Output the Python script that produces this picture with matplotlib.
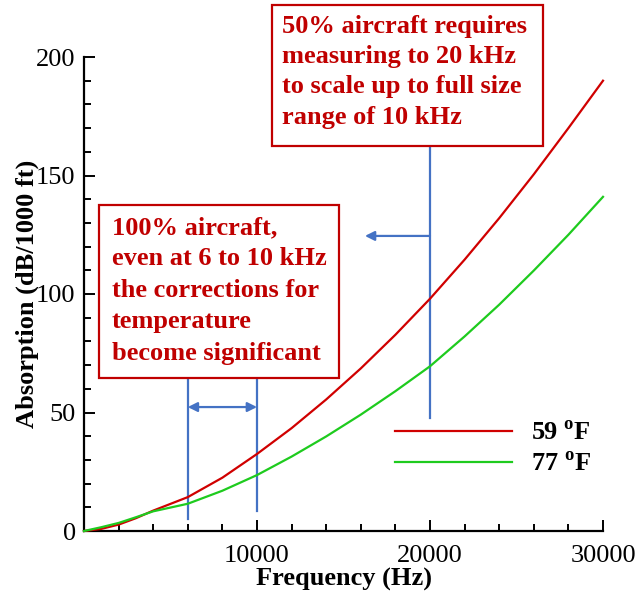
import matplotlib
matplotlib.use("Agg")
import matplotlib.pyplot as plt
from matplotlib.patches import Rectangle
from matplotlib.ticker import MultipleLocator

plt.rcParams["font.family"] = ["Liberation Serif", "DejaVu Serif"]
plt.rcParams["mathtext.fontset"] = "custom"
plt.rcParams["mathtext.rm"] = "Liberation Serif"
plt.rcParams["mathtext.bf"] = "Liberation Serif:bold"

# data
freq = [0, 1000, 2000, 3000, 4000, 6000, 8000, 10000, 12000, 14000, 16000,
        18000, 20000, 22000, 24000, 26000, 28000, 30000]
absorb_59F = [0, 0.9, 2.7, 5.4, 8.6, 14.3, 22.5, 32.5, 43.4, 55.5, 68.6,
              82.8, 98.0, 114.5, 132.0, 150.5, 170.0, 190.0]
absorb_77F = [0, 1.6, 3.4, 5.8, 8.3, 11.5, 17.0, 23.6, 31.4, 39.9, 49.1,
              59.0, 69.5, 82.1, 95.5, 109.9, 125.0, 141.0]
labels = [r"59 $^{\mathbf{o}}$F", r"77 $^{\mathbf{o}}$F"]

note_top = "50% aircraft requires\nmeasuring to 20 kHz\nto scale up to full size\nrange of 10 kHz"
note_low = ("100% aircraft,\neven at 6 to 10 kHz\nthe corrections for\n"
            "temperature\nbecome significant")

red = "#d00000"
green = "#1ecb1e"
blue = "#4472c4"
note_red = "#c00000"

fig = plt.figure(figsize=(6.36, 5.92), dpi=100)
W, H = 636, 592
ax = fig.add_axes([84 / W, 1 - 531 / H, (603 - 84) / W, (531 - 57) / H])

ax.plot(freq, absorb_59F, color=red, lw=1.6, label=labels[0], clip_on=False, zorder=3)
ax.plot(freq, absorb_77F, color=green, lw=1.6, label=labels[1], clip_on=False, zorder=3)

ax.set_xlim(0, 30000)
ax.set_ylim(0, 200)
ax.set_xticks([10000, 20000, 30000])
ax.xaxis.set_minor_locator(MultipleLocator(2000))
ax.yaxis.set_major_locator(MultipleLocator(50))
ax.yaxis.set_minor_locator(MultipleLocator(10))
ax.tick_params(which="both", direction="in", width=1.4, labelsize=19)
ax.tick_params(which="major", length=8)
ax.tick_params(which="minor", length=5)
ax.tick_params(axis="x", pad=10)
ax.tick_params(axis="y", pad=6)
for side in ["top", "right"]:
    ax.spines[side].set_visible(False)
for side in ["left", "bottom"]:
    ax.spines[side].set_linewidth(1.6)

ax.set_xlabel("Frequency (Hz)", fontsize=19, fontweight="bold", labelpad=1)
ax.set_ylabel("Absorption (dB/1000 ft)", fontsize=19, fontweight="bold", labelpad=-2)

# blue markers
ax.plot([20000, 20000], [47.7, 170], color=blue, lw=1.6, zorder=2)
ax.annotate("", xy=(16240, 124.5), xytext=(20000, 124.5),
            arrowprops=dict(arrowstyle="-|>", color=blue, lw=1.6,
                            mutation_scale=14, shrinkA=0, shrinkB=0))
ax.plot([6000, 6000], [5, 66], color=blue, lw=1.6, zorder=2)
ax.plot([10000, 10000], [8.6, 66], color=blue, lw=1.6, zorder=2)
ax.annotate("", xy=(6000, 52.3), xytext=(10000, 52.3),
            arrowprops=dict(arrowstyle="<|-|>", color=blue, lw=1.6,
                            mutation_scale=14, shrinkA=0, shrinkB=0))

leg = ax.legend(loc="upper left", bbox_to_anchor=(0.599, 0.231), frameon=False,
                handlelength=4.45, handletextpad=0.7, labelspacing=0.25,
                borderaxespad=0, borderpad=0,
                prop={"size": 19, "weight": "bold"})


def note_box(x0, y0, x1, y1, text, tx, ty, spacing):
    rect = Rectangle((x0 / W, 1 - y1 / H), (x1 - x0) / W, (y1 - y0) / H,
                     transform=fig.transFigure, facecolor="white",
                     edgecolor=note_red, lw=1.6, zorder=5)
    fig.add_artist(rect)
    fig.text(tx / W, 1 - ty / H, text, color=note_red, fontsize=19,
             fontweight="bold", ha="left", va="top", linespacing=spacing, zorder=6)


note_box(272, 5, 543, 146, note_top, 282, 15, 1.40)
note_box(99, 205, 339, 378, note_low, 112, 216, 1.47)

fig.savefig("out.png", dpi=100)
